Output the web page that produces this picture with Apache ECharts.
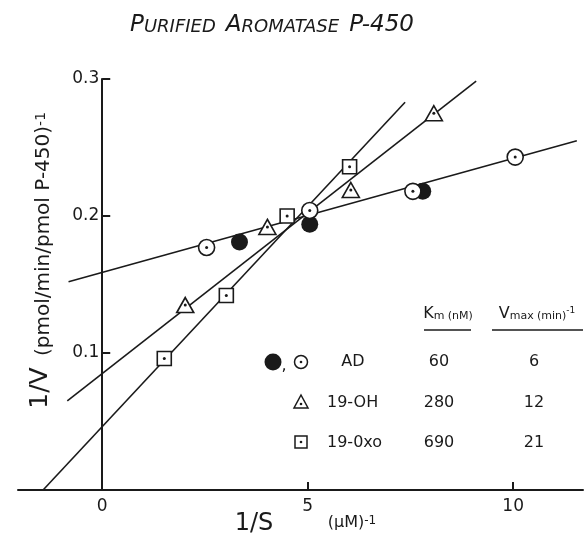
<!DOCTYPE html>
<html>
<head>
<meta charset="utf-8">
<script src="https://cdn.jsdelivr.net/npm/echarts@6/dist/echarts.min.js"></script>
<style>
	html, body { margin: 0; padding: 0; background: #fff; }
	#main { width: 588px; height: 544px; }
</style>
</head>
<body>
<div id="main"></div>
<script>
	// data (1/S in uM^-1, 1/V in (pmol/min/pmol P-450)^-1)
	var adOpen = [[2.54, 0.177], [5.05, 0.204], [7.56, 0.218], [10.05, 0.243]];
	var adFilled = [[3.34, 0.181], [5.05, 0.194], [7.8, 0.218]];
	var ohPoints = [[2.02, 0.135], [4.02, 0.192], [6.05, 0.219], [8.07, 0.275]];
	var oxoPoints = [[1.51, 0.096], [3.02, 0.142], [4.5, 0.2], [6.02, 0.236]];

	// fitted lines, end points
	var adLine = [[-0.82, 0.152], [11.55, 0.255]];
	var ohLine = [[-0.85, 0.065], [9.1, 0.2985]];
	var oxoLine = [[-1.44, 0], [7.37, 0.283]];

	var xLabels = [0, 5, 10];
	var xTicks = [5, 10];
	var yLabels = [0.1, 0.2, 0.3];

	var tableNames = ['AD', '19-OH', '19-0xo'];
	var tableKm = ['60', '280', '690'];
	var tableVmax = ['6', '12', '21'];

	var font = 'DejaVu Sans';
	var ink = '#1a1a1a';

	var xMin = -2.05, xMax = 11.7;
	var gridLeft = 18, gridRight = 5;
	// y axis sits at x = 0, shift it in from the grid's left edge
	var yAxisShift = (0 - xMin) / (xMax - xMin) * (588 - gridLeft - gridRight);

	var myChart = echarts.init(document.getElementById('main'));

	function fitLine(d) {
		return {
			type: 'line', data: d, symbol: 'none', silent: true, z: 2,
			lineStyle: { color: ink, width: 1.6 }
		};
	}

	var graphics = [
		{
			type: 'text', x: 272, y: 25, z: 10,
			style: {
				text: '{b|P}{s|URIFIED}   {b|A}{s|ROMATASE}   {b|P-450}',
				align: 'center', verticalAlign: 'middle',
				rich: {
					b: { fontFamily: font, fontStyle: 'italic', fontSize: 23, fill: ink, verticalAlign: 'bottom' },
					s: { fontFamily: font, fontStyle: 'italic', fontSize: 18, fill: ink, verticalAlign: 'bottom' }
				}
			}
		},
		{
			type: 'text', x: 44, y: 234, rotation: Math.PI / 2, z: 10,
			style: {
				text: '(pmol/min/pmol P-450){s|-1}',
				fontFamily: font, fontSize: 20, fill: ink,
				align: 'center', verticalAlign: 'middle',
				rich: { s: { fontFamily: font, fontSize: 14, fill: ink, verticalAlign: 'top' } }
			}
		},
		{
			type: 'text', x: 40, y: 388, rotation: Math.PI / 2, z: 10,
			style: { text: '1/V', fontFamily: font, fontSize: 25, fill: ink, align: 'center', verticalAlign: 'middle' }
		},
		{
			type: 'text', x: 254, y: 524, z: 10,
			style: { text: '1/S', fontFamily: font, fontSize: 24, fill: ink, align: 'center', verticalAlign: 'middle' }
		},
		{
			type: 'text', x: 352, y: 523, z: 10,
			style: {
				text: '(µM){s|-1}', fontFamily: font, fontSize: 16, fill: ink,
				align: 'center', verticalAlign: 'middle',
				rich: { s: { fontFamily: font, fontSize: 12, fill: ink, verticalAlign: 'top' } }
			}
		},
		// table header
		{
			type: 'text', x: 448, y: 314, z: 10,
			style: {
				text: '{k|K}{m|m} {u|(nM)}', align: 'center', verticalAlign: 'middle',
				rich: {
					k: { fontFamily: font, fontSize: 16, fill: ink, verticalAlign: 'bottom' },
					m: { fontFamily: font, fontSize: 11, fill: ink, verticalAlign: 'bottom' },
					u: { fontFamily: font, fontSize: 11, fill: ink, verticalAlign: 'bottom' }
				}
			}
		},
		{
			type: 'text', x: 537, y: 314, z: 10,
			style: {
				text: '{k|V}{m|max} {u|(min)}{s|-1}', align: 'center', verticalAlign: 'middle',
				rich: {
					k: { fontFamily: font, fontSize: 16, fill: ink, verticalAlign: 'bottom' },
					m: { fontFamily: font, fontSize: 11, fill: ink, verticalAlign: 'bottom' },
					u: { fontFamily: font, fontSize: 11, fill: ink, verticalAlign: 'bottom' },
					s: { fontFamily: font, fontSize: 9, fill: ink, verticalAlign: 'top' }
				}
			}
		},
		{ type: 'line', z: 10, shape: { x1: 424, y1: 330, x2: 471, y2: 330 }, style: { stroke: ink, lineWidth: 1.5 } },
		{ type: 'line', z: 10, shape: { x1: 492, y1: 330, x2: 583, y2: 330 }, style: { stroke: ink, lineWidth: 1.5 } },
		// table symbols
		{ type: 'circle', z: 10, shape: { cx: 273, cy: 362, r: 8.5 }, style: { fill: ink } },
		{ type: 'text', z: 10, x: 284, y: 366, style: { text: ',', fontFamily: font, fontSize: 16, fill: ink, align: 'center', verticalAlign: 'middle' } },
		{ type: 'circle', z: 10, shape: { cx: 301, cy: 362, r: 6.5 }, style: { fill: '#fff', stroke: ink, lineWidth: 1.5 } },
		{ type: 'circle', z: 10, shape: { cx: 301, cy: 362, r: 1.3 }, style: { fill: ink } },
		{ type: 'polygon', z: 10, shape: { points: [[301, 395], [308, 408], [294, 408]] }, style: { fill: '#fff', stroke: ink, lineWidth: 1.5 } },
		{ type: 'circle', z: 10, shape: { cx: 301, cy: 404, r: 1.3 }, style: { fill: ink } },
		{ type: 'rect', z: 10, shape: { x: 295, y: 436, width: 12, height: 12 }, style: { fill: '#fff', stroke: ink, lineWidth: 1.5 } },
		{ type: 'circle', z: 10, shape: { cx: 301, cy: 442, r: 1.3 }, style: { fill: ink } }
	];

	var rowY = [362, 403, 443];
	for (var i = 0; i < tableNames.length; i++) {
		graphics.push({
			type: 'text', z: 10, x: i == 0 ? 353 : 327, y: rowY[i],
			style: { text: tableNames[i], fontFamily: font, fontSize: 16, fill: ink, align: i == 0 ? 'center' : 'left', verticalAlign: 'middle' }
		});
		graphics.push({
			type: 'text', z: 10, x: 439, y: rowY[i],
			style: { text: tableKm[i], fontFamily: font, fontSize: 16, fill: ink, align: 'center', verticalAlign: 'middle' }
		});
		graphics.push({
			type: 'text', z: 10, x: 534, y: rowY[i],
			style: { text: tableVmax[i], fontFamily: font, fontSize: 16, fill: ink, align: 'center', verticalAlign: 'middle' }
		});
	}

	var option = {
		animation: false,
		backgroundColor: '#fff',
		grid: { left: gridLeft, right: gridRight, top: 79, bottom: 54, containLabel: false, outerBoundsMode: 'none' },
		xAxis: {
			type: 'value', min: xMin, max: xMax,
			splitLine: { show: false },
			axisLine: { onZero: false, lineStyle: { color: ink, width: 2 } },
			axisTick: { inside: true, length: 8, customValues: xTicks, lineStyle: { color: ink, width: 2 } },
			axisLabel: { customValues: xLabels, color: ink, fontFamily: font, fontSize: 17, margin: 8 }
		},
		yAxis: {
			type: 'value', min: 0, max: 0.3,
			offset: -yAxisShift,
			splitLine: { show: false },
			axisLine: { onZero: false, lineStyle: { color: ink, width: 2 } },
			axisTick: { inside: true, length: 8, customValues: yLabels, lineStyle: { color: ink, width: 2 } },
			axisLabel: { customValues: yLabels, color: ink, fontFamily: font, fontSize: 17, margin: 3 }
		},
		graphic: graphics,
		series: [
			fitLine(adLine),
			fitLine(ohLine),
			fitLine(oxoLine),
			{
				name: 'AD filled', type: 'scatter', data: adFilled, symbol: 'circle', symbolSize: 17, z: 3,
				itemStyle: { color: ink, opacity: 1 }
			},
			{
				name: 'AD', type: 'scatter', data: adOpen, symbol: 'circle', symbolSize: 16, z: 4,
				itemStyle: { color: '#fff', borderColor: ink, borderWidth: 1.6, opacity: 1 }
			},
			{
				name: '19-OH', type: 'scatter', data: ohPoints, symbol: 'triangle', symbolSize: [17, 15], z: 4,
				itemStyle: { color: '#fff', borderColor: ink, borderWidth: 1.6, opacity: 1 }
			},
			{
				name: '19-0xo', type: 'scatter', data: oxoPoints, symbol: 'rect', symbolSize: 14, z: 4,
				itemStyle: { color: '#fff', borderColor: ink, borderWidth: 1.6, opacity: 1 }
			},
			{
				name: 'dots', type: 'scatter', data: adOpen.concat(ohPoints, oxoPoints), symbol: 'circle', symbolSize: 3, z: 5,
				itemStyle: { color: ink, opacity: 1 }
			}
		]
	};

	myChart.setOption(option);
</script>
</body>
</html>
